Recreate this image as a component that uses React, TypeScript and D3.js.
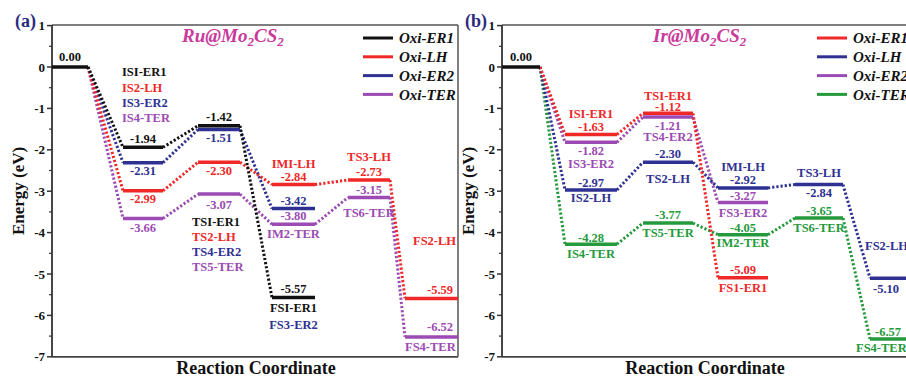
import React from 'react';
import * as d3 from 'd3';

// ---------- DATA ----------
const seriesNames = ['Oxi-ER1', 'Oxi-LH', 'Oxi-ER2', 'Oxi-TER'];
const yTicks = [1, 0, -1, -2, -3, -4, -5, -6, -7];
const yMinorTicks = [0.5, -0.5, -1.5, -2.5, -3.5, -4.5, -5.5, -6.5];

// Panel (a) Ru@Mo2CS2 — energies per reaction stage (start, IS, TS, IM/FS, TS, FS)
const ruER1 = [0, -1.94, -1.42, -5.57];
const ruLH = [0, -2.99, -2.3, -2.84, -2.73, -5.59];
const ruER2 = [0, -2.31, -1.51, -3.42];
const ruTER = [0, -3.66, -3.07, -3.8, -3.15, -6.52];

// Panel (b) Ir@Mo2CS2
const irER1 = [0, -1.63, -1.12, -5.09];
const irLH = [0, -2.97, -2.3, -2.92, -2.84, -5.1];
const irER2 = [0, -1.82, -1.21, -3.27];
const irTER = [0, -4.28, -3.77, -4.05, -3.65, -6.57];

// Labels: [text, seriesIndex (-1 = black), stage, energy anchor, dy, align, dx]
type Lbl = [string, number, number, number, number, 'middle' | 'start', number];
const ruLabels: Lbl[] = [
  ['0.00', -1, 0, 0, -10, 'middle', 0],
  ['ISI-ER1', 0, 1, 0, 5, 'start', -1],
  ['IS2-LH', 1, 1, 0, 21, 'start', -1],
  ['IS3-ER2', 2, 1, 0, 36, 'start', -1],
  ['IS4-TER', 3, 1, 0, 51, 'start', -1],
  ['-1.94', 0, 1, -1.94, -9, 'middle', 0],
  ['-2.31', 2, 1, -2.31, 8, 'middle', 0],
  ['-2.99', 1, 1, -2.99, 8, 'middle', 0],
  ['-3.66', 3, 1, -3.66, 9, 'middle', 0],
  ['-1.42', 0, 2, -1.42, -9, 'middle', 0],
  ['-1.51', 2, 2, -1.51, 8, 'middle', 0],
  ['-2.30', 1, 2, -2.3, 8, 'middle', 0],
  ['-3.07', 3, 2, -3.07, 11, 'middle', 0],
  ['TSI-ER1', 0, 2, -3.07, 28, 'start', -6],
  ['TS2-LH', 1, 2, -3.07, 43, 'start', -6],
  ['TS4-ER2', 2, 2, -3.07, 58, 'start', -6],
  ['TS5-TER', 3, 2, -3.07, 73, 'start', -6],
  ['IMI-LH', 1, 3, -2.84, -21, 'middle', 0],
  ['-2.84', 1, 3, -2.84, -8, 'middle', 0],
  ['-3.42', 2, 3, -3.42, -8, 'middle', 0],
  ['-3.80', 3, 3, -3.8, -9, 'middle', 0],
  ['IM2-TER', 3, 3, -3.8, 9, 'middle', 0],
  ['TS3-LH', 1, 4, -2.73, -23, 'middle', 0],
  ['-2.73', 1, 4, -2.73, -8, 'middle', 0],
  ['-3.15', 3, 4, -3.15, -8, 'middle', 0],
  ['TS6-TER', 3, 4, -3.15, 15, 'middle', 0],
  ['-5.57', 0, 3, -5.57, -9, 'middle', 0],
  ['FSI-ER1', 0, 3, -5.57, 10, 'middle', 0],
  ['FS3-ER2', 2, 3, -5.57, 27, 'middle', 0],
  ['FS2-LH', 1, 5, -5.59, -58, 'start', 8],
  ['-5.59', 1, 5, -5.59, -9, 'start', 22],
  ['-6.52', 3, 5, -6.52, -10, 'start', 22],
  ['FS4-TER', 3, 5, -6.52, 10, 'start', 0],
];
const irLabels: Lbl[] = [
  ['0.00', -1, 0, 0, -10, 'middle', 0],
  ['ISI-ER1', 0, 1, -1.63, -21, 'middle', 0],
  ['-1.63', 0, 1, -1.63, -8, 'middle', 0],
  ['-1.82', 2, 1, -1.82, 8, 'middle', 0],
  ['IS3-ER2', 2, 1, -1.82, 21, 'middle', 0],
  ['-2.97', 1, 1, -2.97, -7, 'middle', 0],
  ['IS2-LH', 1, 1, -2.97, 8, 'middle', 0],
  ['-4.28', 3, 1, -4.28, -7, 'middle', 0],
  ['IS4-TER', 3, 1, -4.28, 9, 'middle', 0],
  ['TSI-ER1', 0, 2, -1.12, -18, 'middle', 0],
  ['-1.12', 0, 2, -1.12, -7, 'middle', 0],
  ['-1.21', 2, 2, -1.21, 9, 'middle', 0],
  ['TS4-ER2', 2, 2, -1.21, 20, 'middle', 0],
  ['-2.30', 1, 2, -2.3, -9, 'middle', 0],
  ['TS2-LH', 1, 2, -2.3, 16, 'middle', 0],
  ['-3.77', 3, 2, -3.77, -8, 'middle', 0],
  ['TS5-TER', 3, 2, -3.77, 10, 'middle', 0],
  ['IMI-LH', 1, 3, -2.92, -21, 'middle', 0],
  ['-2.92', 1, 3, -2.92, -8, 'middle', 0],
  ['-3.27', 2, 3, -3.27, -7, 'middle', 0],
  ['FS3-ER2', 2, 3, -3.27, 10, 'middle', 0],
  ['-4.05', 3, 3, -4.05, -7, 'middle', 0],
  ['IM2-TER', 3, 3, -4.05, 8, 'middle', 0],
  ['-5.09', 0, 3, -5.09, -8, 'middle', 0],
  ['FS1-ER1', 0, 3, -5.09, 10, 'middle', 0],
  ['TS3-LH', 1, 4, -2.84, -12, 'middle', 0],
  ['-2.84', 1, 4, -2.84, 8, 'middle', 0],
  ['-3.65', 3, 4, -3.65, -7, 'middle', 0],
  ['TS6-TER', 3, 4, -3.65, 10, 'middle', 0],
  ['FS2-LH', 1, 5, -5.1, -33, 'start', -5],
  ['-5.10', 1, 5, -5.1, 10, 'start', 3],
  ['-6.57', 3, 5, -6.57, -7, 'start', 5],
  ['FS4-TER', 3, 5, -6.57, 9, 'start', -14],
];

// ---------- LAYOUT / STYLE ----------
const FONT = "'Liberation Serif', 'Times New Roman', serif";
const BLACK = '#111111';
const RED = '#f02828';
const BLUE = '#2e3192';
const PURPLE = '#9b4bb3';
const GREEN = '#249a3c';
const MAGENTA = '#c93a9c';

interface PanelCfg {
  left: number;
  right: number;
  domainMax: number;
  stages: [number, number][];
  series: number[][];
  colors: string[];
  labels: Lbl[];
  tag: string;
  title: string;
  titleX: number;
  legendX: number;
  xLabelX: number;
}

const TOP = 25;
const BOTTOM = 356.8;

const panels: PanelCfg[] = [
  {
    left: 52,
    right: 458,
    domainMax: 8.12,
    stages: [[0, 0.72], [1.42, 2.22], [2.92, 3.76], [4.4, 5.26], [5.92, 6.76], [7.06, 8.12]],
    series: [ruER1, ruLH, ruER2, ruTER],
    colors: [BLACK, RED, BLUE, PURPLE],
    labels: ruLabels,
    tag: '(a)',
    title: 'Ru@Mo',
    titleX: 182,
    legendX: 363,
    xLabelX: 256,
  },
  {
    left: 502,
    right: 920,
    domainMax: 8.36,
    stages: [[0, 0.76], [1.26, 2.3], [2.82, 3.82], [4.32, 5.32], [5.86, 6.82], [7.36, 8.36]],
    series: [irER1, irLH, irER2, irTER],
    colors: [RED, BLUE, PURPLE, GREEN],
    labels: irLabels,
    tag: '(b)',
    title: 'Ir@Mo',
    titleX: 653,
    legendX: 817,
    xLabelX: 705,
  },
];

const y = d3.scaleLinear().domain([-7, 1]).range([BOTTOM, 25.6]);

function Panel({ cfg }: { cfg: PanelCfg }) {
  const x = d3.scaleLinear().domain([0, cfg.domainMax]).range([cfg.left, cfg.left + cfg.domainMax * 50]);
  const order = [3, 2, 1, 0];
  return (
    <g>
      {/* frame */}
      <line x1={cfg.left} x2={cfg.right} y1={TOP} y2={TOP} stroke="#555" strokeWidth={1.5} />
      <line x1={cfg.left} x2={cfg.right} y1={BOTTOM} y2={BOTTOM} stroke="#444" strokeWidth={1.8} />
      <line x1={cfg.right} x2={cfg.right} y1={TOP} y2={BOTTOM} stroke="#555" strokeWidth={1.5} />
      <line x1={cfg.left} x2={cfg.left} y1={TOP} y2={BOTTOM} stroke="#333" strokeWidth={1.8} />
      {/* y ticks */}
      {yTicks.map((t) => (
        <g key={'t' + t}>
          <line x1={cfg.left - 5} x2={cfg.left} y1={y(t)} y2={y(t)} stroke="#333" strokeWidth={1.5} />
          <text x={cfg.left - 7} y={y(t)} dy="0.35em" textAnchor="end" fontFamily={FONT} fontWeight="bold" fontSize={13} fill={BLACK}>
            {t === 0 ? '0' : t > 0 ? String(t) : '-' + Math.abs(t)}
          </text>
        </g>
      ))}
      {yMinorTicks.map((t) => (
        <line key={'m' + t} x1={cfg.left - 3} x2={cfg.left} y1={y(t)} y2={y(t)} stroke="#333" strokeWidth={1.2} />
      ))}
      {/* connectors */}
      {order.map((si) => {
        const s = cfg.series[si];
        return s.slice(0, -1).map((v, i) => (
          <line
            key={'c' + si + '-' + i}
            x1={x(cfg.stages[i][1])}
            y1={y(v)}
            x2={x(cfg.stages[i + 1][0])}
            y2={y(s[i + 1])}
            stroke={cfg.colors[si]}
            strokeWidth={3}
            strokeDasharray="2.2,2"
          />
        ));
      })}
      {/* levels */}
      {order.map((si) => {
        const s = cfg.series[si];
        return s.map((v, i) =>
          i === 0 ? null : (
            <line
              key={'l' + si + '-' + i}
              x1={x(cfg.stages[i][0])}
              x2={Math.min(x(cfg.stages[i][1]), cfg.right)}
              y1={y(v)}
              y2={y(v)}
              stroke={cfg.colors[si]}
              strokeWidth={3.5}
            />
          )
        );
      })}
      <line x1={x(cfg.stages[0][0])} x2={x(cfg.stages[0][1])} y1={y(0)} y2={y(0)} stroke={BLACK} strokeWidth={3.5} />
      {/* labels */}
      {cfg.labels.map(([txt, si, st, e, dy, align, dx], k) => {
        const [a, b] = cfg.stages[st];
        const px = align === 'middle' ? x((a + b) / 2) + dx : x(a) + dx;
        return (
          <text
            key={'lb' + k}
            x={px}
            y={y(e) + dy}
            dy="0.35em"
            textAnchor={align}
            fontFamily={FONT}
            fontWeight="bold"
            fontSize={12.5}
            fill={si < 0 ? BLACK : cfg.colors[si]}
          >
            {txt}
          </text>
        );
      })}
      {/* title */}
      <text x={cfg.titleX} y={42} fontFamily={FONT} fontWeight="bold" fontStyle="italic" fontSize={19} fill={MAGENTA}>
        {cfg.title}
        <tspan fontSize={13} dy={4}>2</tspan>
        <tspan dy={-4}>CS</tspan>
        <tspan fontSize={13} dy={4}>2</tspan>
      </text>
      {/* legend */}
      {seriesNames.map((n, i) => (
        <g key={'lg' + i}>
          <line x1={cfg.legendX} x2={cfg.legendX + 30} y1={38 + i * 18.8} y2={38 + i * 18.8} stroke={cfg.colors[i]} strokeWidth={3} />
          <text x={cfg.legendX + 36} y={38 + i * 18.8} dy="0.35em" fontFamily={FONT} fontWeight="bold" fontStyle="italic" fontSize={15} fill={BLACK}>
            {n}
          </text>
        </g>
      ))}
      {/* tag */}
      <text x={cfg.left - 37} y={27} fontFamily={FONT} fontWeight="bold" fontSize={18} fill="#2a2a80">
        {cfg.tag}
      </text>
      {/* axis titles */}
      <text
        transform={`translate(${cfg.left - 34},${(TOP + BOTTOM) / 2}) rotate(-90)`}
        textAnchor="middle"
        dy="0.35em"
        fontFamily={FONT}
        fontWeight="bold"
        fontSize={17}
        fill={BLACK}
      >
        Energy (eV)
      </text>
      <text x={cfg.xLabelX} y={374} textAnchor="middle" fontFamily={FONT} fontWeight="bold" fontSize={18} fill={BLACK}>
        Reaction Coordinate
      </text>
    </g>
  );
}

export default function App() {
  return (
    <svg
      width={906}
      height={377}
      viewBox="0 0 906 377"
      style={{ position: 'absolute', left: 0, top: 0, background: '#fff' }}
    >
      <rect x={0} y={0} width={906} height={377} fill="#fff" />
      {panels.map((p, i) => (
        <Panel key={i} cfg={p} />
      ))}
    </svg>
  );
}
